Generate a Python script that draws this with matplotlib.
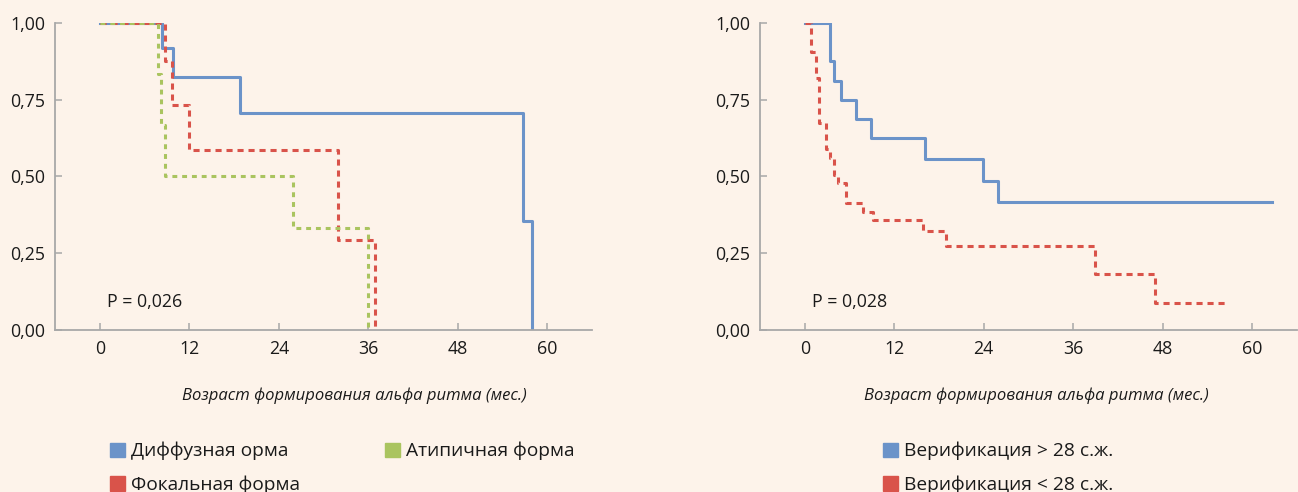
import matplotlib
matplotlib.use("Agg")
import matplotlib.pyplot as plt
from matplotlib.patches import Patch

plt.rcParams['font.family'] = ['Open Sans', 'DejaVu Sans']

# Левый график: форма эпилепсии
diff_t = [0, 8.35, 9.8, 18.8, 56.7, 57.9]
diff_s = [1.0, 0.917, 0.825, 0.707, 0.354, 0.0]
fokal_t = [0, 8.8, 9.7, 12.0, 31.9, 36.9]
fokal_s = [1.0, 0.875, 0.733, 0.587, 0.293, 0.0]
atip_t = [0, 7.8, 8.25, 8.7, 25.9, 35.9]
atip_s = [1.0, 0.833, 0.667, 0.5, 0.333, 0.0]

# Правый график: срок верификации
ver_gt_t = [0, 3.44, 3.93, 4.85, 6.9, 8.85, 16.1, 23.9, 25.9, 62.7]
ver_gt_s = [1.0, 0.875, 0.8125, 0.75, 0.6875, 0.625, 0.556, 0.486, 0.417, 0.417]
ver_lt_t = [0, 0.9, 1.5, 1.9, 2.9, 3.4, 3.9, 4.4, 5.6, 7.8, 9.1, 15.9, 19.0, 38.9, 47.0, 56.4]
ver_lt_s = [1.0, 0.907, 0.82, 0.673, 0.59, 0.56, 0.505, 0.48, 0.415, 0.385, 0.358, 0.323,
            0.275, 0.181, 0.089, 0.089]

x_ticks = [0, 12, 24, 36, 48, 60]
y_ticks = [0, 0.25, 0.5, 0.75, 1.0]
y_labels = ['0,00', '0,25', '0,50', '0,75', '1,00']

bg = '#fdf3ea'
blue = '#6b93c9'
red = '#d9534a'
green = '#aac45f'
axcol = '#a8a8a8'
txt = '#1a1a1a'

fig = plt.figure(figsize=(12.98, 4.92), dpi=100, facecolor=bg)
ax1 = fig.add_axes([0.0424, 0.3293, 0.4137, 0.624])
ax2 = fig.add_axes([0.5855, 0.3293, 0.4137, 0.624])

for ax in (ax1, ax2):
    ax.set_facecolor(bg)
    ax.set_xlim(-6, 66)
    ax.set_ylim(0, 1)
    ax.set_xticks(x_ticks)
    ax.set_yticks(y_ticks)
    ax.set_yticklabels(y_labels)
    for s in ('top', 'right'):
        ax.spines[s].set_visible(False)
    for s in ('left', 'bottom'):
        ax.spines[s].set_color(axcol)
        ax.spines[s].set_linewidth(1.3)
    ax.tick_params(axis='both', direction='in', length=5, width=1.1, color=axcol,
                   labelsize=12.8, labelcolor=txt)
    ax.tick_params(axis='y', pad=7)
    ax.tick_params(axis='x', pad=7)

lw = 2.2
ax1.step(diff_t, diff_s, where='post', color=blue, lw=lw)
ax1.step(fokal_t, fokal_s, where='post', color=red, lw=lw, linestyle=(0, (2.0, 1.6)))
ax1.step(atip_t, atip_s, where='post', color=green, lw=lw, linestyle=(0, (1.6, 1.6)))
ax1.text(1, 0.075, 'P = 0,026', fontsize=12.8, color=txt)

ax2.step(ver_gt_t, ver_gt_s, where='post', color=blue, lw=lw)
ax2.step(ver_lt_t, ver_lt_s, where='post', color=red, lw=lw, linestyle=(0, (2.0, 1.6)))
ax2.text(1, 0.075, 'P = 0,028', fontsize=12.8, color=txt)

fig.text(354 / 1298, 1 - 396 / 492, 'Возраст формирования альфа ритма (мес.)',
         ha='center', va='center', style='italic', fontsize=12, color=txt)
fig.text(1036 / 1298, 1 - 396 / 492, 'Возраст формирования альфа ритма (мес.)',
         ha='center', va='center', style='italic', fontsize=12, color=txt)

h1 = [Patch(color=blue, label='Диффузная орма'),
      Patch(color=red, label='Фокальная форма'),
      Patch(color=green, label='Атипичная форма')]
fig.legend(handles=h1, loc='upper left', bbox_to_anchor=(110 / 1298, 1 - 442 / 492),
           ncol=2, frameon=False, fontsize=13.8, handlelength=0.8, handleheight=0.8,
           handletextpad=0.3, columnspacing=4.43, labelspacing=0.8, borderaxespad=0,
           borderpad=0, labelcolor=txt)

h2 = [Patch(color=blue, label='Верификация > 28 с.ж.'),
      Patch(color=red, label='Верификация < 28 с.ж.')]
fig.legend(handles=h2, loc='upper left', bbox_to_anchor=(883 / 1298, 1 - 442 / 492),
           ncol=1, frameon=False, fontsize=13.8, handlelength=0.8, handleheight=0.8,
           handletextpad=0.3, labelspacing=0.8, borderaxespad=0, borderpad=0,
           labelcolor=txt)

fig.savefig('out.png', dpi=100, facecolor=bg)
